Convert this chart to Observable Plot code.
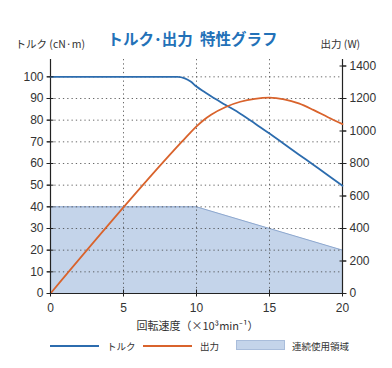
<!DOCTYPE html>
<html><head><meta charset="utf-8">
<script src="https://cdn.jsdelivr.net/npm/d3@7"></script>
<script src="https://cdn.jsdelivr.net/npm/@observablehq/plot@0.6"></script>
<style>
body{margin:0;background:#fff;font-family:"Liberation Sans","Noto Sans CJK JP",sans-serif;}
#wrap{position:relative;width:392px;height:368px;overflow:hidden}
.lg{position:absolute;font-size:9.5px;color:#333;line-height:12px;font-family:"Noto Sans CJK JP",sans-serif}
.ln{position:absolute;height:2px}
</style></head>
<body><div id="wrap"></div>
<script>
// ---- data ----
const speedTicks = [0, 5, 10, 15, 20];
const gridSpeed = [5, 10, 15];
const torqueTicks = [0, 10, 20, 30, 40, 50, 60, 70, 80, 90, 100];
const gridTorque = [10, 20, 30, 40, 50, 60, 70, 80, 90, 100];
const powerTicks = [0, 200, 400, 600, 800, 1000, 1200, 1400];

const torqueSpeed = [0, 8.7, 9.2, 9.6, 10, 10.5, 11, 12, 13, 14, 15, 16, 17, 18, 19, 20];
const torqueValue = [100, 100, 99.3, 97.8, 95.5, 93.2, 91, 87, 83, 78.5, 73.8, 69, 64.2, 59.4, 54.6, 49.7];

const powerSpeed = [0, 9, 9.5, 10, 10.5, 11, 12, 13, 14, 15, 16, 17, 18, 19, 20];
const powerValue = [0, 934, 982, 1028, 1068, 1100, 1148, 1180, 1198, 1205, 1195, 1170, 1130, 1085, 1042];

const regionSpeed = [0, 10, 15, 20];
const regionTorque = [40, 40, 30, 20];

const W2T = 0.075; // 1200 W ↔ 90 on the torque axis

const torque = torqueSpeed.map((s, i) => ({s, v: torqueValue[i]}));
const power = powerSpeed.map((s, i) => ({s, v: powerValue[i] * W2T}));
const region = regionSpeed.map((s, i) => ({s, v: regionTorque[i]}));

const BLUE = "#2c6cae", ORANGE = "#d9632c", FILL = "#c4d4ea";
const font = `"Liberation Sans","Noto Sans CJK JP",sans-serif`;
const cjk = `"Noto Sans CJK JP",sans-serif`;

const chart = Plot.plot({
  width: 392, height: 368,
  marginLeft: 50, marginRight: 50, marginTop: 59, marginBottom: 75,
  style: {fontFamily: font, background: "#fff"},
  x: {domain: [0, 20], label: null},
  y: {domain: [0, 108], label: null},
  marks: [
    Plot.areaY(region, {x: "s", y: "v", fill: FILL}),
    Plot.lineY(region, {x: "s", y: "v", stroke: "#8ea8cf", strokeWidth: 1}),
    Plot.gridY(gridTorque, {stroke: "#444", strokeOpacity: 0.8, strokeDasharray: "1.3,3"}),
    Plot.gridX(gridSpeed, {stroke: "#444", strokeOpacity: 0.8, strokeDasharray: "1.3,3"}),
    Plot.ruleX([0, 20], {stroke: "#222", strokeWidth: 1.2}),
    Plot.ruleY([0], {stroke: "#222", strokeWidth: 1.2}),
    Plot.lineY(torque, {x: "s", y: "v", stroke: BLUE, strokeWidth: 1.8, curve: "monotone-x"}),
    Plot.lineY(power, {x: "s", y: "v", stroke: ORANGE, strokeWidth: 1.8, curve: "monotone-x"}),
    // left axis
    Plot.axisY(torqueTicks, {anchor: "left", tickSize: 3, tickPadding: 4, fontSize: 12, fill: "#333", stroke: "#222", label: null}),
    Plot.axisY(torqueTicks, {anchor: "left", tickSize: 7, dx: 3.5, tickFormat: () => "", stroke: "#222", label: null}),
    // right axis (power)
    Plot.axisY(powerTicks.map(w => w * W2T), {anchor: "right", tickSize: 3, tickPadding: 4, fontSize: 12, fill: "#333", stroke: "#222", tickFormat: d => String(Math.round(d / W2T)), label: null}),
    Plot.axisY(powerTicks.map(w => w * W2T), {anchor: "right", tickSize: 7, dx: -3.5, tickFormat: () => "", stroke: "#222", label: null}),
    // x axis
    Plot.axisX(speedTicks, {anchor: "bottom", tickSize: 3, tickPadding: 7, fontSize: 12, fill: "#333", stroke: "#222", label: null}),
    Plot.axisX(speedTicks, {anchor: "bottom", tickSize: 7, dy: -3.5, tickFormat: () => "", stroke: "#222", label: null}),
    // texts
    Plot.text(["トルク･出力  特性グラフ"], {frameAnchor: "top", dx: -4, dy: -19, fontSize: 15.5, fontWeight: "bold", fill: "#2271b8", fontFamily: cjk, lineAnchor: "middle"}),
    Plot.text(["トルク (cN·m)"], {frameAnchor: "top-left", textAnchor: "start", lineAnchor: "middle", dx: -35, dy: -15, fontSize: 10.5, fill: "#333", fontFamily: cjk}),
    Plot.text(["出力 (W)"], {frameAnchor: "top-right", textAnchor: "start", lineAnchor: "middle", dx: -22, dy: -15, fontSize: 10.5, fill: "#333", fontFamily: cjk}),
    Plot.text(["回転速度（×10³min⁻¹）"], {frameAnchor: "bottom", lineAnchor: "middle", dx: 1, dy: 33, fontSize: 11, fill: "#333", fontFamily: cjk})
  ]
});
const wrap = document.getElementById("wrap");
wrap.appendChild(chart);
chart.style.position = "absolute"; chart.style.left = "0"; chart.style.top = "0";

// legend
const legendItems = [
  {label: "トルク", kind: "line", color: BLUE, x: 50, tx: 107},
  {label: "出力", kind: "line", color: ORANGE, x: 143, tx: 200},
  {label: "連続使用領域", kind: "box", color: FILL, x: 236, tx: 292}
];
for (const it of legendItems) {
  const sw = document.createElement("div");
  if (it.kind === "line") {
    sw.className = "ln";
    sw.style.cssText += `left:${it.x}px;top:345px;width:49px;background:${it.color}`;
  } else {
    sw.style.cssText = `position:absolute;left:${it.x}px;top:340px;width:49px;height:10px;background:${it.color};border:1px solid #a9bddb;box-sizing:border-box`;
  }
  wrap.appendChild(sw);
  const t = document.createElement("div");
  t.className = "lg";
  t.textContent = it.label;
  t.style.left = it.tx + "px";
  t.style.top = "340px";
  wrap.appendChild(t);
}
</script></body></html>
